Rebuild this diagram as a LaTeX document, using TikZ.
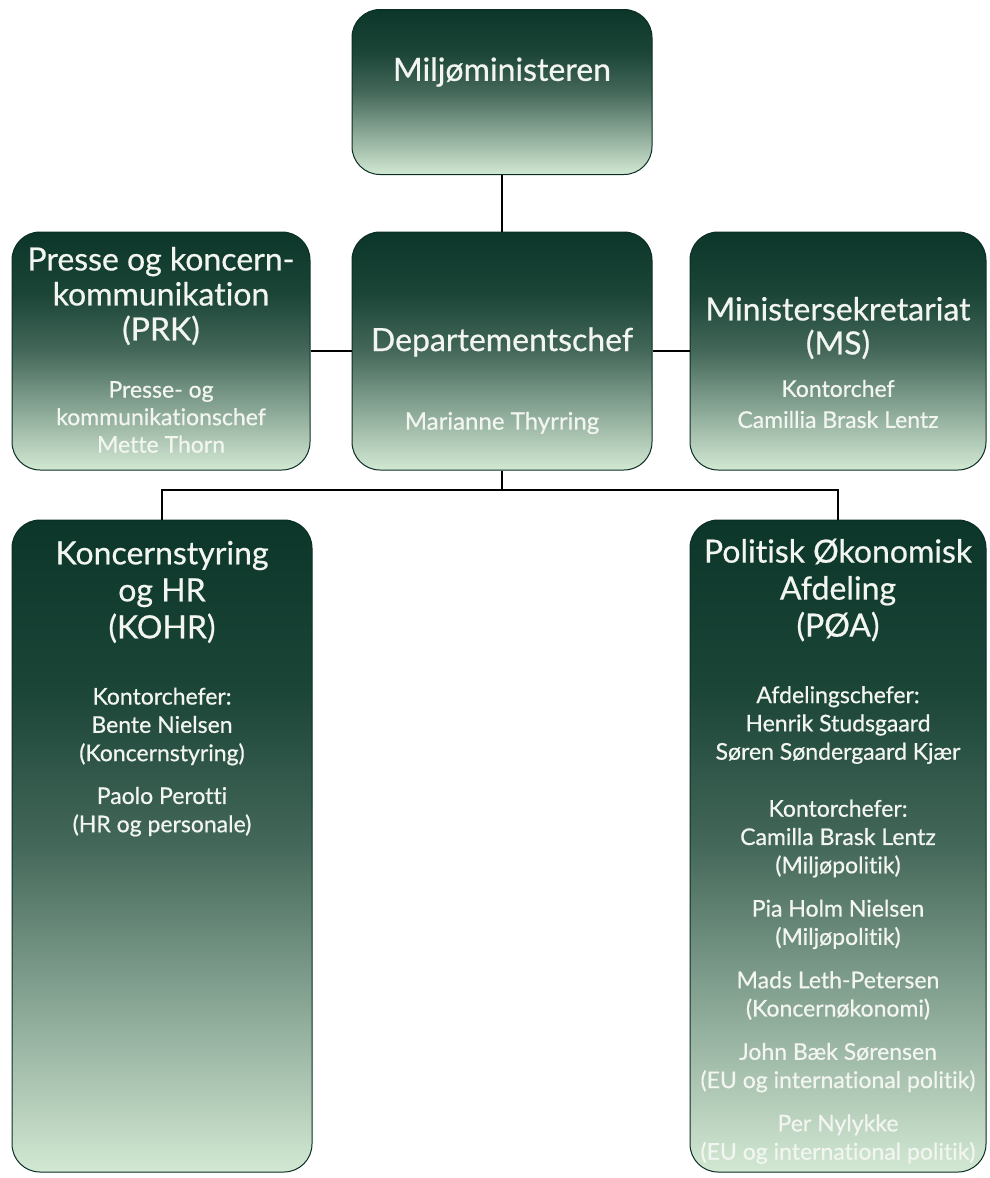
\documentclass[tikz,border=0pt]{standalone}
\usepackage{fontspec}
\setmainfont{Lato}[Ligatures=NoCommon, RawFeature={embolden=0.6}]
\usetikzlibrary{positioning}

\definecolor{deepgreen}{HTML}{0C3629}
\definecolor{darkgreen}{HTML}{1B4537}
\definecolor{midgreen}{HTML}{44685A}
\definecolor{palegreen}{HTML}{D2E8D3}
\definecolor{edgegreen}{HTML}{0A2E23}
\definecolor{textwhite}{HTML}{F2F5F0}

% vertical fade, 25bp = box bottom, 75bp = box top
\pgfdeclareverticalshading{boxfade}{100bp}{color(0bp)=(palegreen); color(25bp)=(palegreen);
  color(50bp)=(midgreen); color(62bp)=(darkgreen); color(75bp)=(deepgreen); color(100bp)=(deepgreen)}

\begin{document}
\begin{tikzpicture}[x=1pt,y=-1pt,
  unit box/.style={rectangle, rounded corners=28pt, draw=edgegreen, line width=1pt,
    shade, shading=boxfade, inner sep=0pt},
  head text/.style={text=textwhite, align=center, font=\fontsize{32}{37}\selectfont},
  name text/.style={text=textwhite, align=center, font=\fontsize{23}{28.3}\selectfont},
  link/.style={draw=black, line width=1.8pt}]

  \useasboundingbox (0,0) rectangle (989,1178);

  % boxes
  \node[unit box, minimum width=300pt, minimum height=165pt] (minister) at (502,92) {};
  \node[unit box, minimum width=300pt, minimum height=238pt] (depchef) at (502,351) {};
  \node[unit box, minimum width=298pt, minimum height=238pt] (prk) at (161,351) {};
  \node[unit box, minimum width=296pt, minimum height=238pt] (ms) at (838,351) {};
  \node[unit box, minimum width=300pt, minimum height=652pt] (kohr) at (162,846) {};
  \node[unit box, minimum width=296pt, minimum height=652pt] (poa) at (838,846) {};

  % connectors
  \coordinate (fork) at (502,490);
  \draw[link] (minister) -- (depchef);
  \draw[link] (prk) -- (depchef);
  \draw[link] (depchef) -- (ms);
  \draw[link] (depchef.south) -- (fork);
  \draw[link] (kohr.north) |- (fork) -| (poa.north);

  % texts
  \node[head text] (ministertitle) at (502,72) {Miljøministeren};

  \node[head text] (deptitle) at (502,342) {Departementschef};
  \node[name text, font=\fontsize{24}{28}\selectfont] (depname) at (502,423) {Marianne Thyrring};

  \node[head text, font=\fontsize{32}{35}\selectfont] (prktitle) at (161,296) {Presse og koncern-\\kommunikation\\(PRK)};
  \node[name text, font=\fontsize{23}{27.5}\selectfont] (prkname) at (161,417) {Presse- og\\kommunikationschef\\Mette Thorn};

  \node[head text, font=\fontsize{32}{34}\selectfont] (mstitle) at (838,328) {Ministersekretariat\\(MS)};
  \node[name text, font=\fontsize{23}{31}\selectfont] (msname) at (838,404) {Kontorchef\\Camillia Brask Lentz};

  \node[head text] (kohrtitle) at (162,592) {Koncernstyring\\og HR\\(KOHR)};
  \node[name text] (kohrname) at (162,762) {Kontorchefer:\\Bente Nielsen\\(Koncernstyring)\\[14.5pt]Paolo Perotti\\(HR og personale)};

  \node[head text] (poatitle) at (838,590) {Politisk Økonomisk\\Afdeling\\(PØA)};
  \node[name text] (poaname) at (838,925) {Afdelingschefer:\\Henrik Studsgaard\\Søren Søndergaard Kjær\\[28.7pt]%
    Kontorchefer:\\Camilla Brask Lentz\\(Miljøpolitik)\\[15pt]%
    Pia Holm Nielsen\\(Miljøpolitik)\\[15pt]%
    Mads Leth-Petersen\\(Koncernøkonomi)\\[15pt]%
    John Bæk Sørensen\\(EU og international politik)\\[15pt]%
    Per Nylykke\\(EU og international politik)};
\end{tikzpicture}
\end{document}
